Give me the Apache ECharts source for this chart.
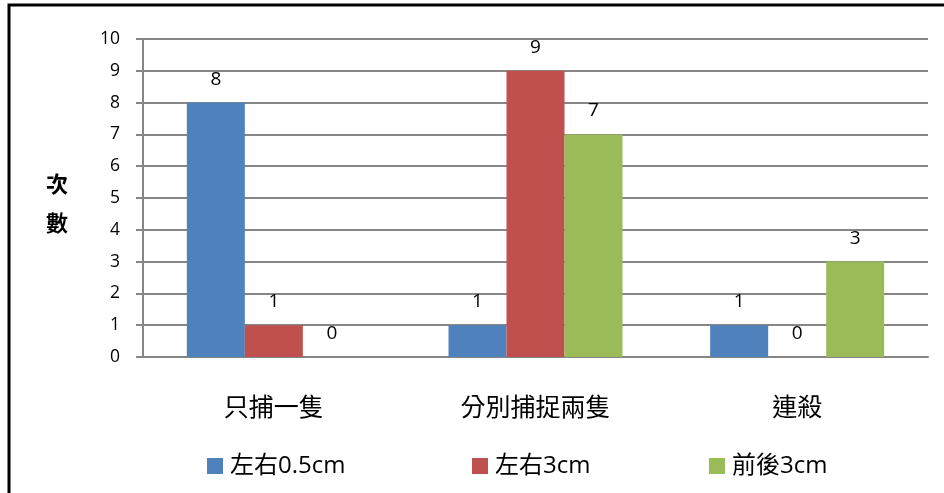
<!DOCTYPE html>
<html>
<head>
<meta charset="utf-8">
<script src="https://cdn.jsdelivr.net/npm/echarts@6/dist/echarts.min.js"></script>
<style>
  html, body { margin: 0; padding: 0; background: #fff; }
  #chart { width: 944px; height: 493px; }
</style>
</head>
<body>
<div id="chart"></div>
<script>
// Capture counts per outcome for each spacing setup
const categories = ['只捕一隻', '分別捕捉兩隻', '連殺'];
const seriesNames = ['左右0.5cm', '左右3cm', '前後3cm'];
const sideBySideSmall = [8, 1, 1];
const sideBySideWide = [1, 9, 0];
const frontBack = [0, 7, 3];
const colors = ['#4f81bd', '#c0504d', '#9bbb59'];

const font = '"Open Sans", "Noto Sans CJK TC", sans-serif';
const chart = echarts.init(document.getElementById('chart'), null, { renderer: 'canvas' });

const makeSeries = (name, data, color) => ({
  name: name,
  type: 'bar',
  data: data,
  barWidth: 58,
  barGap: '0%',
  itemStyle: { color: color },
  label: {
    show: true,
    position: 'top',
    distance: 14,
    color: '#000',
    fontSize: 19,
    fontFamily: font
  }
});

// one legend block per series so each entry sits at its own spot
const legendLefts = [202, 467, 704];
const legends = seriesNames.map((name, i) => ({
  left: legendLefts[i],
  top: 449,
  itemWidth: 16,
  itemHeight: 16,
  icon: 'rect',
  data: [name],
  textStyle: { fontSize: 24, color: '#000', fontFamily: font, padding: [4, 0, 0, 2] }
}));

chart.setOption({
  animation: false,
  backgroundColor: '#fff',
  textStyle: { fontFamily: font },
  graphic: [
    {
      type: 'rect',
      shape: { x: 9, y: 5, width: 960, height: 520 },
      style: { fill: 'none', stroke: '#000', lineWidth: 3 },
      silent: true
    },
    {
      type: 'text',
      left: 46,
      top: 164,
      style: {
        text: '次\n數',
        font: 'bold 22px "Noto Sans CJK TC", sans-serif',
        fill: '#000',
        lineHeight: 39
      }
    }
  ],
  grid: { left: 143, right: 16, top: 39, bottom: 136, containLabel: false },
  legend: legends,
  xAxis: {
    type: 'category',
    data: categories,
    axisLine: { lineStyle: { color: '#868686', width: 2 } },
    axisTick: { show: false },
    axisLabel: { color: '#000', fontSize: 25, margin: 39, fontFamily: font }
  },
  yAxis: {
    type: 'value',
    min: 0,
    max: 10,
    interval: 1,
    axisLine: { show: true, lineStyle: { color: '#868686', width: 2 } },
    axisTick: { show: true, length: 7, lineStyle: { color: '#868686', width: 2 } },
    axisLabel: { color: '#000', fontSize: 17.5, margin: 23, fontFamily: font },
    splitLine: { lineStyle: { color: '#868686', width: 2 } }
  },
  series: [
    makeSeries(seriesNames[0], sideBySideSmall, colors[0]),
    makeSeries(seriesNames[1], sideBySideWide, colors[1]),
    makeSeries(seriesNames[2], frontBack, colors[2])
  ]
});
</script>
</body>
</html>
